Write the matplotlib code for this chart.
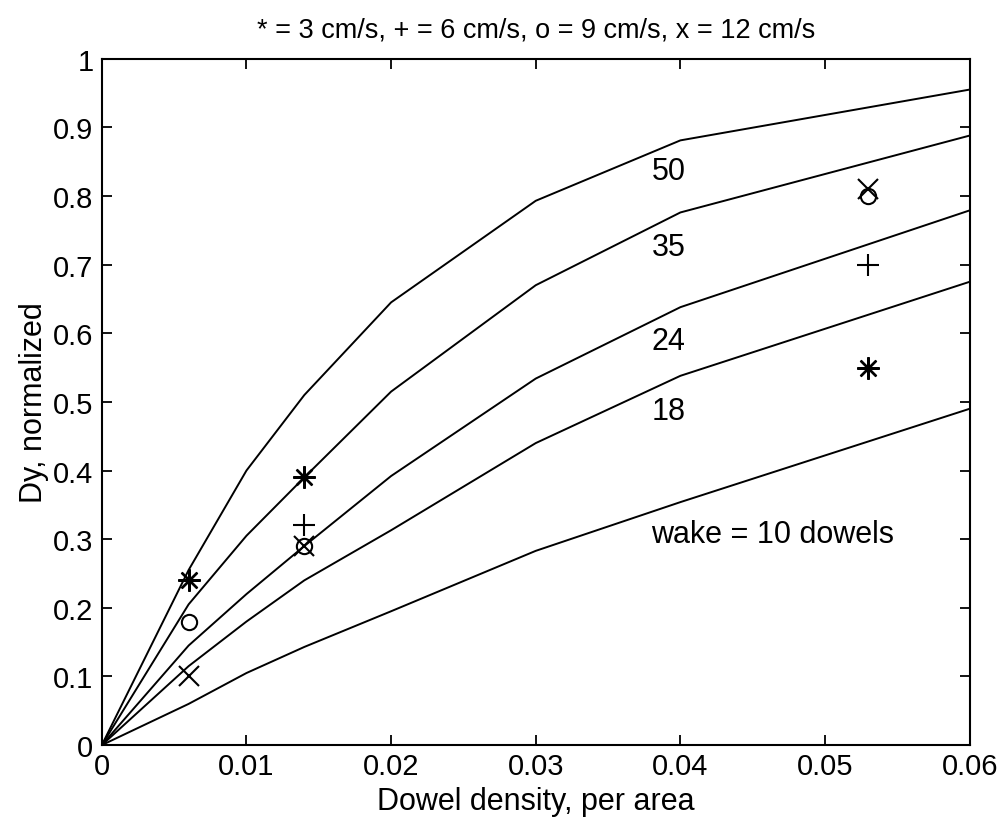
import matplotlib.pyplot as plt

plt.rcParams['font.family'] = ['Liberation Sans', 'DejaVu Sans']

# dowel density grid for the wake curves
dens = [0, 0.006, 0.01, 0.014, 0.02, 0.03, 0.04, 0.06]
wake50 = [0, 0.255, 0.40, 0.51, 0.645, 0.793, 0.881, 0.955]
wake35 = [0, 0.205, 0.305, 0.39, 0.515, 0.670, 0.776, 0.888]
wake24 = [0, 0.145, 0.22, 0.29, 0.392, 0.534, 0.638, 0.779]
wake18 = [0, 0.115, 0.18, 0.24, 0.313, 0.440, 0.538, 0.675]
wake10 = [0, 0.06, 0.105, 0.143, 0.195, 0.283, 0.354, 0.490]

curve_labels = ["50", "35", "24", "18", "wake = 10 dowels"]
label_y = [0.837, 0.726, 0.589, 0.487, 0.307]

# measured points, one set per flow speed
x_3 = [0.006, 0.014, 0.053]
y_3 = [0.24, 0.39, 0.55]
x_6 = [0.014, 0.053]
y_6 = [0.32, 0.70]
x_9 = [0.006, 0.014, 0.053]
y_9 = [0.18, 0.29, 0.80]
x_12 = [0.006, 0.014, 0.053]
y_12 = [0.10, 0.29, 0.81]

xtick_vals = [0, 0.01, 0.02, 0.03, 0.04, 0.05, 0.06]
xtick_text = ['0', '0.01', '0.02', '0.03', '0.04', '0.05', '0.06']
ytick_vals = [i / 10 for i in range(11)]
ytick_text = ['0', '0.1', '0.2', '0.3', '0.4', '0.5', '0.6', '0.7', '0.8', '0.9', '1']

fig = plt.figure(figsize=(10.08, 8.29), dpi=100)
ax = fig.add_axes([0.101, 0.100, 0.861, 0.828])

for ys in [wake50, wake35, wake24, wake18, wake10]:
    ax.plot(dens, ys, color='black', lw=1.4)

for lab, ly in zip(curve_labels, label_y):
    ax.text(0.038, ly, lab, fontsize=22, ha='left', va='center')

ax.plot(x_3, y_3, ls='none', marker=(8, 2, 0), ms=16, mec='black', mew=1.7)
ax.plot(x_6, y_6, ls='none', marker='+', ms=16, mec='black', mew=1.5)
ax.plot(x_9, y_9, ls='none', marker='o', ms=11, mfc='none', mec='black', mew=1.5)
ax.plot(x_12, y_12, ls='none', marker='x', ms=14, mec='black', mew=1.5)

ax.set_xlim(0, 0.06)
ax.set_ylim(0, 1)
ax.set_xticks(xtick_vals)
ax.set_xticklabels(xtick_text, fontsize=21)
ax.set_yticks(ytick_vals)
ax.set_yticklabels(ytick_text, fontsize=21)
ax.tick_params(direction='in', length=7, width=1.3, top=True, right=True)
ax.tick_params(axis='x', pad=5)
ax.tick_params(axis='y', pad=6)
for sp in ax.spines.values():
    sp.set_linewidth(1.5)

ax.set_xlabel('Dowel density, per area', fontsize=22, labelpad=4)
ax.set_ylabel('Dy, normalized', fontsize=22, labelpad=3)
ax.set_title('* = 3 cm/s, + = 6 cm/s, o = 9 cm/s, x = 12 cm/s',
             fontsize=19.5, pad=16)

fig.savefig('out.png', dpi=100)
